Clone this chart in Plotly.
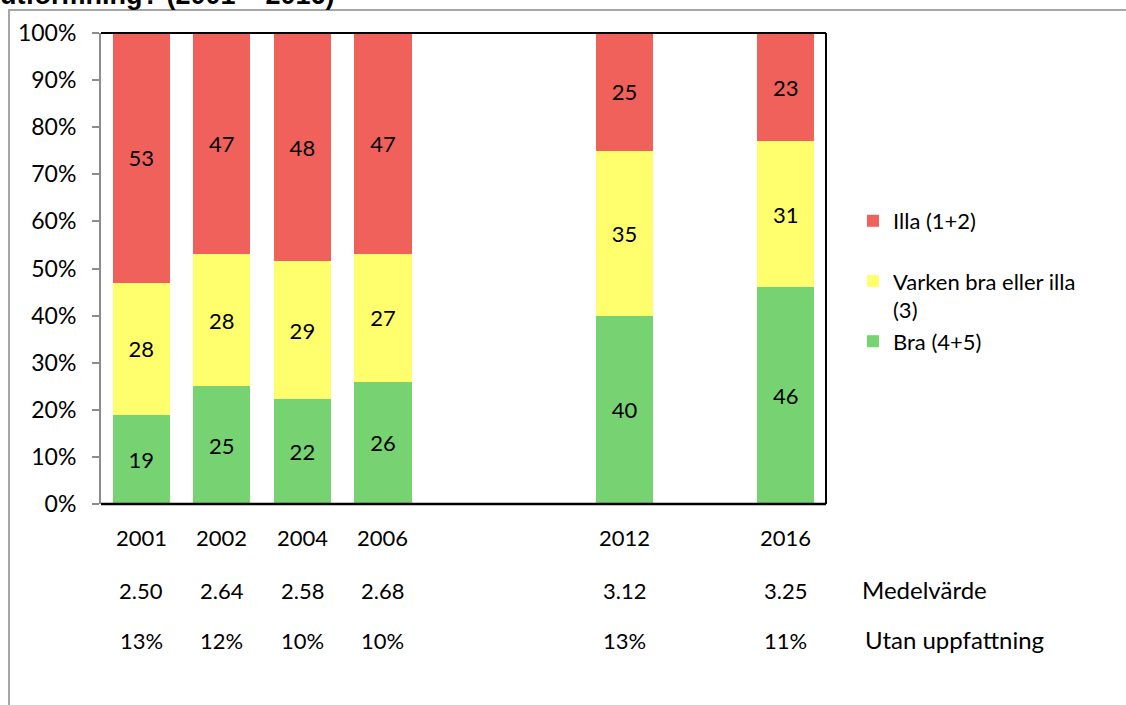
import plotly.graph_objects as go

# ---- data ----
years = ["2001", "2002", "2004", "2006", "2012", "2016"]
axis_slots = ["2001", "2002", "2004", "2006", "gap1", "gap2", "2012", "gap3", "2016"]
bra = [19, 25, 22, 26, 40, 46]
varken = [28, 28, 29, 27, 35, 31]
illa = [53, 47, 48, 47, 25, 23]
medelvarde = ["2.50", "2.64", "2.58", "2.68", "3.12", "3.25"]
utan_uppfattning = ["13%", "12%", "10%", "10%", "13%", "11%"]
y_ticks = list(range(0, 101, 10))
y_ticktext = [f"{v}%" for v in y_ticks]

FONT = "Lato"
WFONT = "Lato"
C_RED = "#F0615C"
C_YEL = "#FFFF6E"
C_GRN = "#77D372"

W, H = 1126, 705
L, R, T, B = 101, 826, 33, 504  # plot area in pixels


def px(x):
    return (x - L) / (R - L)


def py(y):
    return (B - y) / (B - T)


fig = go.Figure()
series = [
    ("Bra (4+5)", bra, C_GRN),
    ("Varken bra eller illa<br>(3)", varken, C_YEL),
    ("Illa (1+2)<br> ", illa, C_RED),
]
for name, vals, col in series:
    fig.add_trace(go.Bar(
        x=years, y=vals, name=name, marker=dict(color=col, line=dict(width=0)),
        text=[str(v) for v in vals], textposition="inside", insidetextanchor="middle",
        textangle=0, textfont=dict(family=FONT, size=22, color="black"),
        constraintext="none", hoverinfo="skip",
    ))

annotations = []
for yr, m, u in zip(years, medelvarde, utan_uppfattning):
    xi = axis_slots.index(yr)
    for txt, yy in ((yr, 537), (m, 590), (u, 640)):
        annotations.append(dict(x=xi, xref="x", y=py(yy), yref="paper", text=txt,
                                showarrow=False, yanchor="middle",
                                font=dict(family=FONT, size=22, color="black")))
annotations.append(dict(x=px(860), xref="paper", y=py(589), yref="paper", text="Medelvärde",
                        showarrow=False, xanchor="left", yanchor="middle",
                        font=dict(family=WFONT, size=24, color="black")))
annotations.append(dict(x=px(863), xref="paper", y=py(639), yref="paper", text="Utan uppfattning",
                        showarrow=False, xanchor="left", yanchor="middle",
                        font=dict(family=WFONT, size=24, color="black")))
annotations.append(dict(x=px(-2), xref="paper", y=py(12), yref="paper",
                        text="<b>utformning? (2001 – 2016)</b>",
                        showarrow=False, xanchor="left", yanchor="bottom",
                        font=dict(family="Liberation Sans", size=27, color="black")))

shapes = [
    # outer chart border
    dict(type="rect", xref="paper", yref="paper", x0=px(9), y0=py(900), x1=px(1300), y1=py(10),
         line=dict(color="#A6A6A6", width=2), fillcolor="rgba(0,0,0,0)", layer="below"),
    # plot area frame: top, right, bottom black
    dict(type="line", xref="paper", yref="paper", x0=0, x1=1, y0=1, y1=1,
         line=dict(color="black", width=2)),
    dict(type="line", xref="paper", yref="paper", x0=1, x1=1, y0=0, y1=1,
         line=dict(color="black", width=2)),
    dict(type="line", xref="paper", yref="paper", x0=0, x1=1, y0=0, y1=0,
         line=dict(color="black", width=2.5)),
]

fig.update_layout(
    width=W, height=H,
    margin=dict(l=L, r=W - R, t=T, b=H - B, pad=0),
    barmode="stack", barnorm="percent", bargap=0.29,
    plot_bgcolor="white", paper_bgcolor="white",
    font=dict(family=FONT, size=22, color="black"),
    xaxis=dict(type="category", categoryorder="array", categoryarray=axis_slots,
               range=[-0.5, len(axis_slots) - 0.5], showticklabels=False,
               showgrid=False, zeroline=False, showline=False, ticks="", fixedrange=True),
    yaxis=dict(range=[0, 100], tickvals=y_ticks, ticktext=y_ticktext, showgrid=False,
               zeroline=False, showline=True, linecolor="#8C8C8C", linewidth=2,
               ticks="outside", ticklen=7, tickcolor="#8C8C8C", tickwidth=2,
               ticklabelstandoff=11,
               tickfont=dict(family=FONT, size=23, color="black"), fixedrange=True),
    legend=dict(x=px(853), y=py(200), xanchor="left", yanchor="top",
                traceorder="reversed", tracegroupgap=0, valign="top",
                font=dict(family=WFONT, size=22, color="black"),
                bgcolor="rgba(0,0,0,0)", itemwidth=30),
    annotations=annotations, shapes=shapes,
    showlegend=True,
)

fig.write_html("out.html", config={"displayModeBar": False},
               post_script="document.body.style.margin='0';")
